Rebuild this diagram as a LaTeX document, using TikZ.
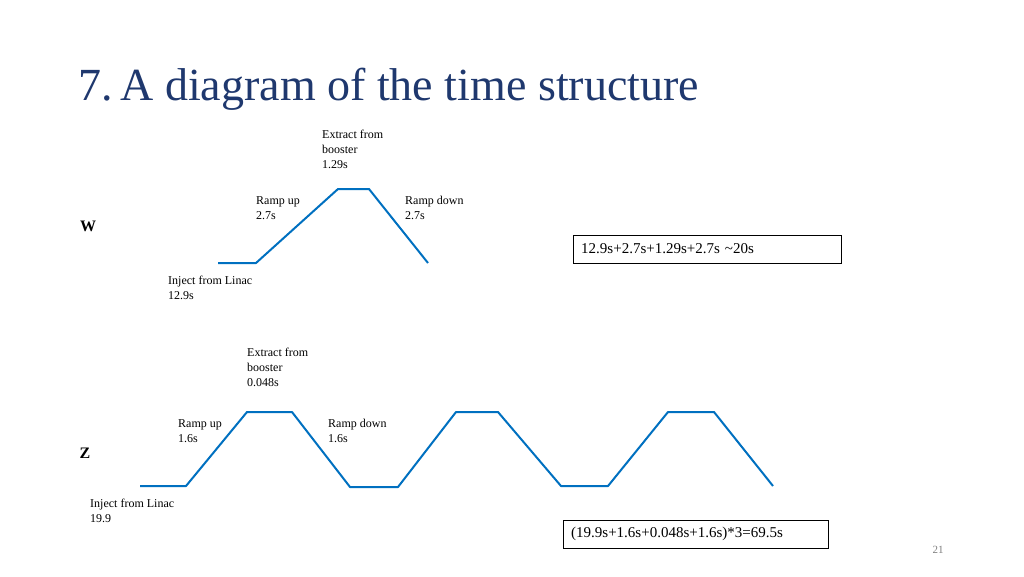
\documentclass[tikz,border=0pt]{standalone}
\usepackage{fontspec}
\setmainfont{Liberation Serif}
\definecolor{titleblue}{RGB}{31,56,110}
\definecolor{waveblue}{RGB}{0,112,192}
\begin{document}
\begin{tikzpicture}
  [x=1pt,y=-1pt,
   lbl/.style={anchor=north west,align=left,inner sep=0pt,font=\fontsize{12}{15}\selectfont},
   wave/.style={draw=waveblue,line width=2pt,line join=round},
   sumbox/.style={draw,anchor=west,minimum height=28,inner xsep=8pt,text width=#1,align=left,font=\fontsize{15}{18}\selectfont}]

  \useasboundingbox (0,0) rectangle (1024,576);

  \node[anchor=base west,inner sep=0pt,text=titleblue,font=\fontsize{46}{50}\selectfont] (title) at (78,100) {7.\,A diagram of the time structure};

  % W
  \node[font=\bfseries\fontsize{16}{18}\selectfont] (w) at (88,226) {W};
  \coordinate (w1) at (218,263); \coordinate (w2) at (256,263);
  \coordinate (w3) at (338,189); \coordinate (w4) at (369,189);
  \coordinate (w5) at (428,263);
  \draw[wave] (w1) -- (w2) -- (w3) -- (w4) -- (w5);
  \node[lbl] (wext) at (322,130) {Extract from\\booster\\1.29s};
  \node[lbl] (wup)  at (256,196) {Ramp up\\2.7s};
  \node[lbl] (wdn)  at (405,196) {Ramp down\\2.7s};
  \node[lbl] (winj) at (168,276) {Inject from Linac\\12.9s};
  \node[sumbox=252] (wsum) at (573,249) {12.9s+2.7s+1.29s+2.7s \textasciitilde 20s};

  % Z
  \node[font=\bfseries\fontsize{16}{18}\selectfont] (z) at (85,453) {Z};
  \coordinate (z1) at (140,486); \coordinate (z2) at (186,486);
  \coordinate (z3) at (247,412); \coordinate (z4) at (292,412);
  \coordinate (z5) at (350,487); \coordinate (z6) at (398,487);
  \coordinate (z7) at (456,412); \coordinate (z8) at (498,412);
  \coordinate (z9) at (561,486); \coordinate (z10) at (608,486);
  \coordinate (z11) at (668,412); \coordinate (z12) at (714,412);
  \coordinate (z13) at (773,486);
  \draw[wave] (z1) -- (z2) -- (z3) -- (z4) -- (z5) -- (z6) -- (z7)
    -- (z8) -- (z9) -- (z10) -- (z11) -- (z12) -- (z13);
  \node[lbl] (zext) at (247,348) {Extract from\\booster\\0.048s};
  \node[lbl] (zup)  at (178,419) {Ramp up\\1.6s};
  \node[lbl] (zdn)  at (328,419) {Ramp down\\1.6s};
  \node[lbl] (zinj) at (90,499) {Inject from Linac\\19.9};
  \node[sumbox=249] (zsum) at (563,534) {(19.9s+1.6s+0.048s+1.6s)*3=69.5s};

  \node[text=gray,font=\fontsize{11}{12}\selectfont] (page) at (938,550) {21};
\end{tikzpicture}
\end{document}
